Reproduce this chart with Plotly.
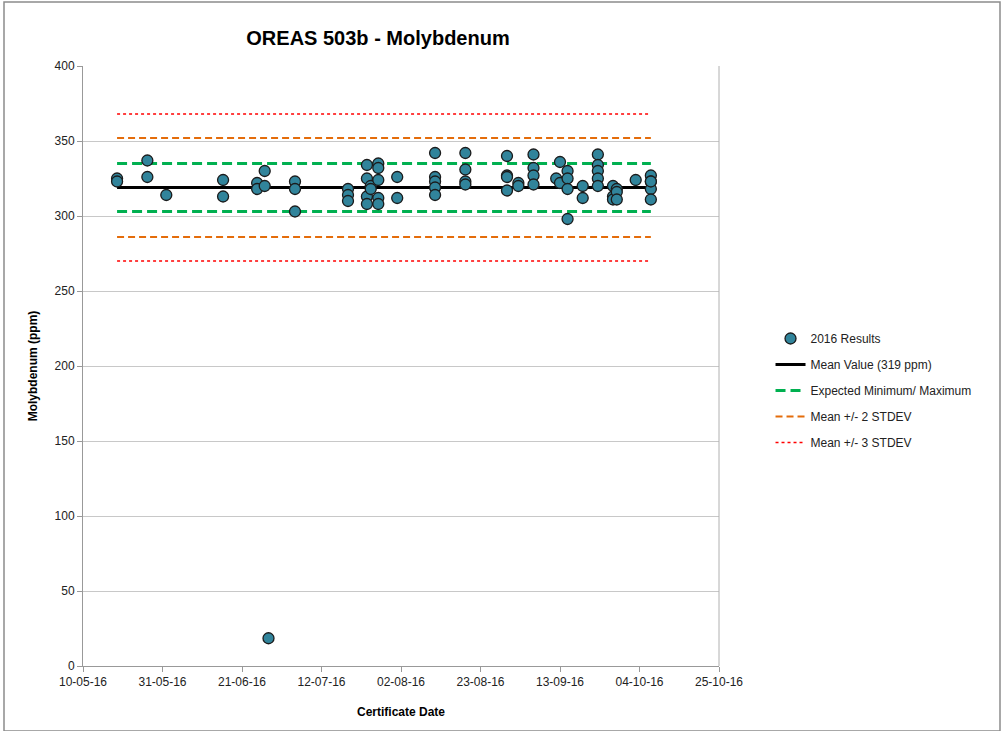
import plotly.graph_objects as go

# ---- data ----
dates = (
    ["2016-05-19"] * 2 + ["2016-05-27"] * 2 + ["2016-06-01"] + ["2016-06-16"] * 2 +
    ["2016-06-25"] * 2 + ["2016-06-27"] * 2 + ["2016-06-28"] +
    ["2016-07-05"] * 3 + ["2016-07-19"] * 3 +
    ["2016-07-24"] * 4 + ["2016-07-25"] * 2 + ["2016-07-27"] * 5 +
    ["2016-08-01"] * 2 + ["2016-08-11"] * 5 + ["2016-08-19"] * 4 +
    ["2016-08-30"] * 4 + ["2016-09-02"] * 2 + ["2016-09-06"] * 4 +
    ["2016-09-12"] + ["2016-09-13"] * 2 + ["2016-09-15"] * 4 +
    ["2016-09-19"] * 2 + ["2016-09-23"] * 5 +
    ["2016-09-27"] * 3 + ["2016-09-28"] * 3 + ["2016-10-03"] + ["2016-10-07"] * 5
)
values = (
    [325, 323] + [337, 326] + [314] + [324, 313] +
    [322, 318] + [330, 320] + [18.5] +
    [323, 318, 303] + [318, 314, 310] +
    [334, 325, 313, 308] + [320, 318] + [335, 332, 324, 312, 308] +
    [326, 312] + [342, 326, 323, 319, 314] + [342, 331, 323, 321] +
    [340, 327, 326, 317] + [322, 320] + [341, 332, 327, 321] +
    [325] + [336, 322] + [330, 325, 318, 298] +
    [320, 312] + [341, 334, 330, 325, 320] +
    [320, 313, 311] + [318, 316, 311] + [324] + [327, 323, 318, 311, 323]
)

mean_value = 319
expected_min, expected_max = 303, 335
sd2_low, sd2_high = 286, 352
sd3_low, sd3_high = 270, 368
line_start, line_end = "2016-05-19", "2016-10-07"

x_tickvals = ["2016-05-10", "2016-05-31", "2016-06-21", "2016-07-12", "2016-08-02",
              "2016-08-23", "2016-09-13", "2016-10-04", "2016-10-25"]
x_ticktext = ["10-05-16", "31-05-16", "21-06-16", "12-07-16", "02-08-16",
              "23-08-16", "13-09-16", "04-10-16", "25-10-16"]
y_tickvals = [0, 50, 100, 150, 200, 250, 300, 350, 400]

FONT = "Liberation Sans, Arial, sans-serif"

fig = go.Figure()

fig.add_trace(go.Scatter(
    x=[line_start, line_end], y=[mean_value, mean_value], mode="lines",
    name="Mean Value (319 ppm)", legendgroup="b", legendrank=2,
    line=dict(color="black", width=3),
))
fig.add_trace(go.Scatter(
    x=[line_start, line_end, None, line_start, line_end],
    y=[expected_min, expected_min, None, expected_max, expected_max], mode="lines",
    name="Expected Minimum/ Maximum", legendgroup="c", legendrank=3,
    line=dict(color="#00B050", width=3, dash="10px,5px"),
))
fig.add_trace(go.Scatter(
    x=[line_start, line_end, None, line_start, line_end],
    y=[sd2_low, sd2_low, None, sd2_high, sd2_high], mode="lines",
    name="Mean +/- 2 STDEV", legendgroup="d", legendrank=4,
    line=dict(color="#E46C0A", width=2, dash="7px,4px"),
))
fig.add_trace(go.Scatter(
    x=[line_start, line_end, None, line_start, line_end],
    y=[sd3_low, sd3_low, None, sd3_high, sd3_high], mode="lines",
    name="Mean +/- 3 STDEV", legendgroup="e", legendrank=5,
    line=dict(color="#FF0000", width=1.5, dash="dot"),
))
fig.add_trace(go.Scatter(
    x=dates, y=values, mode="markers", name="2016 Results", legendgroup="a", legendrank=1,
    marker=dict(size=11, color="#31849B", line=dict(color="#1b1b1b", width=1.3)),
))

fig.update_layout(
    width=1001, height=731,
    paper_bgcolor="white", plot_bgcolor="white",
    margin=dict(l=83, r=282, t=66, b=65),
    font=dict(family=FONT, size=12, color="#222"),
    title=dict(text="<b>OREAS 503b - Molybdenum</b>", x=378 / 1001, xanchor="center",
               y=1 - 38 / 731, yanchor="middle",
               font=dict(family=FONT, size=20, color="black")),
    showlegend=True,
    legend=dict(x=1.081, y=0.57, xanchor="left", yanchor="top",
                tracegroupgap=7,
                font=dict(family=FONT, size=12, color="#222"),
                bgcolor="rgba(0,0,0,0)"),
    xaxis=dict(
        type="date", range=["2016-05-10", "2016-10-25"],
        tickvals=x_tickvals, ticktext=x_ticktext,
        showgrid=False, showline=True, linecolor="#999", linewidth=1,
        ticks="outside", ticklen=5, tickcolor="#999",
        mirror=False, zeroline=False,
        title=dict(text="<b>Certificate Date</b>", font=dict(size=12, color="black"), standoff=19),
    ),
    yaxis=dict(
        range=[0, 400], tickvals=y_tickvals,
        showgrid=True, gridcolor="#c8c8c8", gridwidth=1,
        showline=True, linecolor="#999", linewidth=1,
        ticks="outside", ticklen=5, tickcolor="#999", zeroline=False,
        title=dict(text="<b>Molybdenum (ppm)</b>", font=dict(size=12, color="black"), standoff=14),
    ),
)

# right border of plot area
fig.add_shape(type="line", xref="paper", yref="paper", x0=1, x1=1, y0=0, y1=1,
              line=dict(color="#b0b0b0", width=1))
# outer chart border
fig.add_shape(type="rect", xref="paper", yref="paper",
              x0=(4 - 83) / 636, x1=(1000 - 83) / 636,
              y0=(666 - 731) / 600, y1=(666 - 2) / 600,
              line=dict(color="#8c8c8c", width=1.5), layer="below")

fig.write_html(
    "out.html",
    config={"displayModeBar": False},
    post_script="document.body.style.margin='0';document.body.style.padding='0';"
                "document.body.style.overflow='hidden';",
)
